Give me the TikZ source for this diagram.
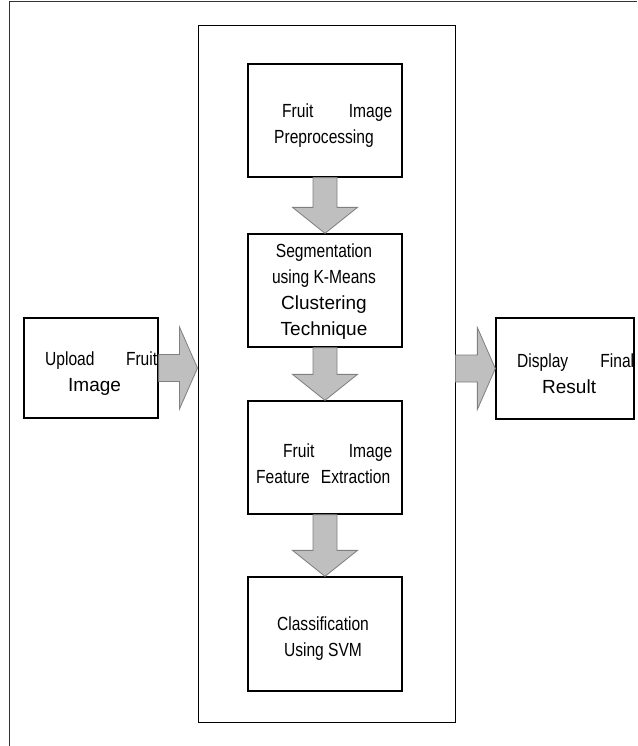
\documentclass[tikz,border=0pt]{standalone}
\usepackage{fontspec}
\setmainfont{Liberation Sans}
\newfontfamily\narrowfont[FakeStretch=0.82]{Liberation Sans}
\newfontfamily\widefont{Liberation Sans}
\usepackage{tikz}
\usetikzlibrary{calc}
\definecolor{flowgray}{RGB}{127,127,127}
\definecolor{flowfill}{RGB}{191,191,191}
\newcommand{\spreadline}[2]{\makebox[#1][s]{#2}}

\begin{document}
\begin{tikzpicture}[x=1pt, y=-1pt,
  box/.style={draw, line width=1.3pt, inner sep=0pt,
    minimum width=154pt, minimum height=113pt},
  txt/.style={font=\narrowfont\fontsize{19}{26}\selectfont, inner sep=0pt},
  downblock/.style={draw=flowgray, fill=flowfill, line width=0.8pt,
    to path={($(\tikztostart)+(-12,0)$) -- ($(\tikztotarget)+(-12,-26)$)
      -- ($(\tikztotarget)+(-32.5,-26)$) -- (\tikztotarget)
      -- ($(\tikztotarget)+(32.5,-26)$) -- ($(\tikztotarget)+(12,-26)$)
      -- ($(\tikztostart)+(12,0)$) -- cycle}},
  rightblock/.style={draw=flowgray, fill=flowfill, line width=0.8pt,
    to path={($(\tikztostart)+(0,-13.5)$) -- ($(\tikztotarget)+(-18,-13.5)$)
      -- ($(\tikztotarget)+(-18,-41)$) -- (\tikztotarget)
      -- ($(\tikztotarget)+(-18,41)$) -- ($(\tikztotarget)+(-18,13.5)$)
      -- ($(\tikztostart)+(0,13.5)$) -- cycle}}]

\useasboundingbox (0,0) rectangle (637,746);

%% Page border (top and left only)
\draw[line width=1pt, black!80] (637,2) -- (9,2) -- (9,746);

%% Processing frame
\node[draw, line width=1pt, minimum width=257pt, minimum height=696pt,
  inner sep=0pt] (frame) at (326.5,374) {};

%% Stages
\node[box] (pre) at (325,120.5) {};
\node[box] (seg) at (325,290.5) {};
\node[box] (feat) at (325,457.5) {};
\node[box, minimum height=114pt] (svm) at (325,634) {};

\node[txt, anchor=west, align=left] (pretxt) at (274,125.5)
  {\spreadline{118pt}{\hspace*{8pt}Fruit Image}\\Preprocessing};
\node[txt, align=center] (segtxt) at (324,291.5)
  {Segmentation\\using K-Means\\{\widefont Clustering}\\{\widefont Technique}};
\node[txt, anchor=west, align=left] (feattxt) at (256,463.5)
  {\spreadline{136pt}{\hspace*{27pt}Fruit Image}\\\spreadline{134pt}{Feature Extraction}};
\node[txt, align=center] (svmtxt) at (323,638.5)
  {Classification\\Using SVM};

%% Input and output
\node[box, minimum width=134pt, minimum height=100pt] (up) at (91,368) {};
\node[box, minimum width=138pt, minimum height=101pt] (res) at (565,368.5) {};

\node[txt, anchor=west, align=left] (uptxt) at (45,373.5)
  {\spreadline{112pt}{Upload Fruit}\\\hspace*{23pt}{\widefont Image}};
\node[txt, anchor=west, align=left] (restxt) at (517,373.5)
  {\spreadline{117pt}{Display Final}\\\hspace*{25pt}{\widefont Result}};

%% Block arrows
\foreach \a/\b in {pre/seg, seg/feat, feat/svm}
  \draw[downblock] (\a.south) to (\b.north);

\coordinate (upin) at (up.east -| frame.west);
\coordinate (resout) at (frame.east |- res.west);
\draw[rightblock] (up.east) to (upin);
\draw[rightblock] (resout) to (res.west);

\end{tikzpicture}
\end{document}
